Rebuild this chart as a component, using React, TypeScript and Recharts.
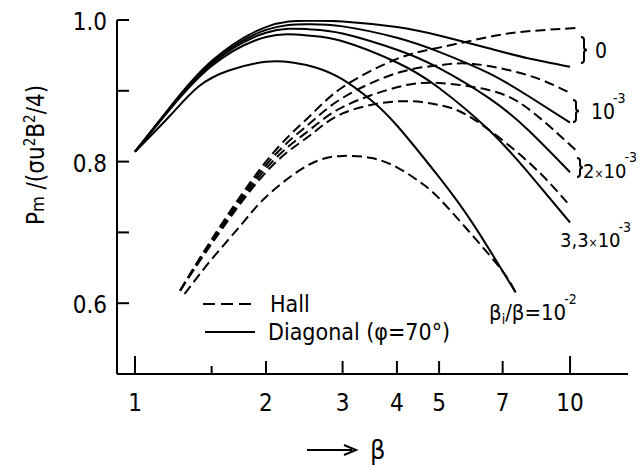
import { LineChart, Line, XAxis, YAxis } from "recharts";

const FONT = "'DejaVu Sans Condensed', 'Liberation Sans', sans-serif";

// x axis: beta on a log scale
const betaTicks = [1, 1.5, 2, 3, 4, 5, 7, 10];
const betaTickLabels = ["1", "", "2", "3", "4", "5", "7", "10"];
// y axis: Pm / (σu²B²/4)
const powerTicks = [0.6, 0.7, 0.8, 0.9, 1.0];
const powerTickLabels = ["0.6", "", "0.8", "", "1.0"];

// Diagonal generator (φ = 70°), one curve per βi/β
const diagBeta = [1.0, 1.2, 1.5, 2.0, 2.5, 3.0, 4.0, 5.0, 6.5, 8.0, 10.0];
const diag0 = [0.814, 0.876, 0.942, 0.99, 0.999, 0.998, 0.99, 0.978, 0.96, 0.946, 0.934];
const diag1e3 = [0.814, 0.875, 0.94, 0.986, 0.994, 0.991, 0.975, 0.955, 0.925, 0.893, 0.855];
const diag2e3 = [0.814, 0.874, 0.938, 0.982, 0.987, 0.981, 0.958, 0.932, 0.89, 0.845, 0.785];
const diag33e3 = [0.814, 0.873, 0.935, 0.976, 0.978, 0.97, 0.94, 0.904, 0.845, 0.785, 0.714];
const diag1e2Beta = [1.0, 1.2, 1.4, 1.65, 2.0, 2.3, 2.6, 3.0, 3.5, 4.0, 5.0, 6.0, 7.5];
const diag1e2 = [0.814, 0.864, 0.906, 0.929, 0.941, 0.94, 0.933, 0.916, 0.886, 0.851, 0.778, 0.711, 0.615];

// Hall generator
const hall0Beta = [1.27, 1.5, 2.0, 2.5, 3.0, 4.0, 5.0, 6.5, 8.0, 10.5];
const hall0 = [0.618, 0.69, 0.8, 0.862, 0.905, 0.945, 0.961, 0.976, 0.984, 0.989];
const hall1e3Beta = [1.27, 1.5, 2.0, 2.5, 3.0, 4.0, 5.0, 6.0, 8.0, 10.0];
const hall1e3 = [0.618, 0.688, 0.795, 0.852, 0.89, 0.925, 0.936, 0.938, 0.922, 0.897];
const hall2e3Beta = [1.27, 1.5, 2.0, 2.5, 3.0, 4.0, 5.0, 6.5, 8.0, 10.4];
const hall2e3 = [0.618, 0.686, 0.79, 0.843, 0.877, 0.905, 0.911, 0.901, 0.875, 0.814];
const hall33e3Beta = [1.27, 1.5, 2.0, 2.5, 3.0, 4.0, 5.0, 6.0, 8.0, 9.85];
const hall33e3 = [0.618, 0.684, 0.785, 0.835, 0.868, 0.885, 0.88, 0.86, 0.8, 0.742];
const hall1e2Beta = [1.3, 1.5, 1.75, 2.0, 2.5, 3.0, 3.5, 4.0, 4.5, 5.0, 6.0, 7.0, 7.5];
const hall1e2 = [0.613, 0.662, 0.71, 0.75, 0.795, 0.808, 0.805, 0.792, 0.772, 0.748, 0.694, 0.645, 0.615];

const zip = (b: number[], v: number[]) => b.map((x, i) => ({ b: x, v: v[i] }));

const curves = [
	{ key: "d0", data: zip(diagBeta, diag0), dashed: false },
	{ key: "d1", data: zip(diagBeta, diag1e3), dashed: false },
	{ key: "d2", data: zip(diagBeta, diag2e3), dashed: false },
	{ key: "d3", data: zip(diagBeta, diag33e3), dashed: false },
	{ key: "d4", data: zip(diag1e2Beta, diag1e2), dashed: false },
	{ key: "h0", data: zip(hall0Beta, hall0), dashed: true },
	{ key: "h1", data: zip(hall1e3Beta, hall1e3), dashed: true },
	{ key: "h2", data: zip(hall2e3Beta, hall2e3), dashed: true },
	{ key: "h3", data: zip(hall33e3Beta, hall33e3), dashed: true },
	{ key: "h4", data: zip(hall1e2Beta, hall1e2), dashed: true },
];

// ticks point into the plot, so draw them ourselves
const BetaTick = ({ x, y, payload }: any) => {
	const i = betaTicks.indexOf(payload.value);
	const len = payload.value === 1 || payload.value === 10 ? 18 : payload.value === 1.5 ? 8 : 13;
	return (
		<g>
			<line x1={x} x2={x} y1={y} y2={y - len} stroke="#000" strokeWidth={2} />
			<text x={x} y={y + 37} textAnchor="middle" fontSize={24} fontFamily={FONT} fill="#000">
				{betaTickLabels[i]}
			</text>
		</g>
	);
};

const PowerTick = ({ x, y, payload }: any) => {
	const i = powerTicks.findIndex((t) => Math.abs(t - payload.value) < 1e-6);
	return (
		<g>
			<line x1={x} x2={x + 12} y1={y} y2={y} stroke="#000" strokeWidth={2} />
			<text x={x - 10} y={y + 10} textAnchor="end" fontSize={24} fontFamily={FONT} fill="#000">
				{powerTickLabels[i]}
			</text>
		</g>
	);
};

const brace = (x: number, y1: number, y2: number) => {
	const m = (y1 + y2) / 2;
	return `M ${x} ${y1} q 3 0 3 3 V ${m - 3} q 0 3 3 3 q -3 0 -3 3 V ${y2 - 3} q 0 3 -3 3`;
};

const Annotations = () => (
	<svg width={641} height={468} style={{ position: "absolute", left: 0, top: 0, pointerEvents: "none" }}>
		<g fontFamily={FONT} fill="#000">
			<text transform="translate(44,155) rotate(-90)" textAnchor="middle" fontSize={24}>
				P<tspan fontSize={18}>m</tspan> /(σu<tspan fontSize={15} dy={-9}>2</tspan>
				<tspan dy={9}>B</tspan>
				<tspan fontSize={15} dy={-9}>2</tspan>
				<tspan dy={9}>/4)</tspan>
			</text>

			<path d={brace(581, 37, 63)} stroke="#000" strokeWidth={2} fill="none" />
			<text x={595} y={58} fontSize={21}>0</text>

			<path d={brace(573, 100, 122)} stroke="#000" strokeWidth={2} fill="none" />
			<text x={591} y={119} fontSize={21}>
				10<tspan fontSize={14} dx={-2} dy={-16}>-3</tspan>
			</text>

			<path d={brace(577, 158, 177)} stroke="#000" strokeWidth={2} fill="none" />
			<text x={583} y={178} fontSize={20}>
				2<tspan fontSize={12}>×</tspan>10<tspan fontSize={14} dx={-2} dy={-16}>-3</tspan>
			</text>

			<text x={560} y={247} fontSize={20}>
				3,3<tspan fontSize={12}>×</tspan>10<tspan fontSize={14} dx={-2} dy={-15}>-3</tspan>
			</text>

			<text x={489} y={320} fontSize={22}>
				β<tspan fontSize={14} dy={4}>i</tspan>
				<tspan dy={-4}>/β=10</tspan>
				<tspan fontSize={14} dx={-2} dy={-16}>-2</tspan>
			</text>

			<line x1={203} x2={253} y1={304} y2={304} stroke="#000" strokeWidth={2} strokeDasharray="12 6" />
			<text x={270} y={312} fontSize={23}>Hall</text>
			<line x1={205} x2={255} y1={332} y2={332} stroke="#000" strokeWidth={2} />
			<text x={268} y={340} fontSize={23}>Diagonal (φ=70°)</text>

			<line x1={307} x2={352} y1={450} y2={450} stroke="#000" strokeWidth={2} />
			<path d="M 344 445 L 356 450 L 344 455" stroke="#000" strokeWidth={2} fill="none" />
			<text x={370} y={459} fontSize={27}>β</text>
		</g>
	</svg>
);

export default function App() {
	return (
		<div style={{ position: "absolute", left: 0, top: 0, width: 641, height: 468, background: "#fff" }}>
			<LineChart width={641} height={468} margin={{ top: 20, right: 13, bottom: 0, left: 0 }}>
				<XAxis
					dataKey="b"
					type="number"
					scale="log"
					domain={[0.909, 13.59]}
					allowDataOverflow
					ticks={betaTicks}
					tick={<BetaTick />}
					tickSize={0}
					tickMargin={0}
					height={94}
					stroke="#000"
					strokeWidth={2}
				/>
				<YAxis
					type="number"
					domain={[0.5, 1.0]}
					allowDataOverflow
					ticks={powerTicks}
					tick={<PowerTick />}
					tickSize={0}
					tickMargin={0}
					width={117}
					stroke="#000"
					strokeWidth={2}
				/>
				{curves.map((c) => (
					<Line
						key={c.key}
						data={c.data}
						dataKey="v"
						type="natural"
						stroke="#000"
						strokeWidth={2}
						strokeDasharray={c.dashed ? "10 5" : undefined}
						dot={false}
						isAnimationActive={false}
					/>
				))}
			</LineChart>
			<Annotations />
		</div>
	);
}
